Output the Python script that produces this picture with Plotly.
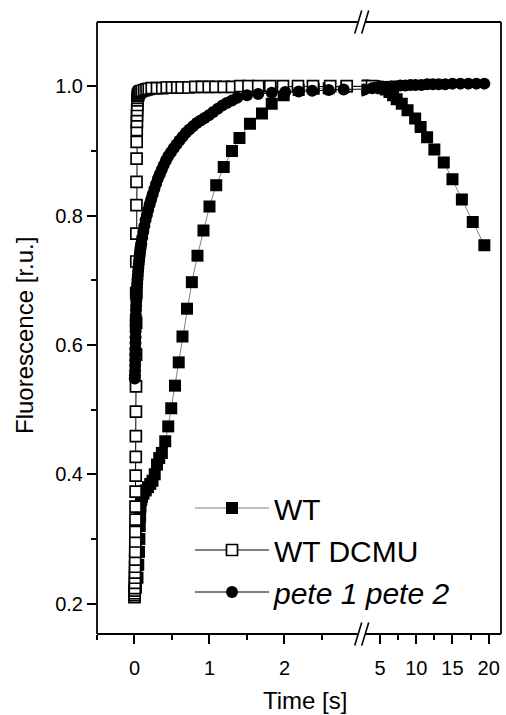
import plotly.graph_objects as go

# ---------------- data ----------------
wt_t = [0.00, 0.02, 0.04, 0.05, 0.06, 0.065, 0.07, 0.075, 0.08, 0.09, 0.10, 0.12,
        0.15, 0.18, 0.21, 0.24, 0.27, 0.30, 0.33, 0.365, 0.41, 0.45, 0.49, 0.54,
        0.59, 0.64, 0.70, 0.765, 0.84, 0.92, 1.00, 1.09, 1.19, 1.30, 1.40, 1.54,
        1.70, 1.83, 1.99, 2.19, 2.39, 2.59, 2.83,
        3.9, 4.3, 4.8, 5.3, 5.8, 6.3, 6.8, 7.3, 8.0, 8.8, 9.85, 10.6, 11.5, 12.5,
        13.8, 15.0, 16.3, 17.8, 19.4]
wt_f = [0.220, 0.225, 0.240, 0.260, 0.280, 0.300, 0.320, 0.335, 0.350, 0.360, 0.365, 0.370,
        0.375, 0.380, 0.385, 0.390, 0.400, 0.415, 0.425, 0.433, 0.451, 0.474, 0.502, 0.537,
        0.573, 0.613, 0.656, 0.697, 0.738, 0.777, 0.814, 0.847, 0.875, 0.900, 0.920, 0.942,
        0.958, 0.973, 0.986, 0.994, 0.996, 0.997, 1.000,
        1.000, 1.000, 0.999, 0.997, 0.995, 0.991, 0.986, 0.980, 0.973, 0.963, 0.950, 0.937,
        0.921, 0.902, 0.882, 0.856, 0.825, 0.790, 0.754]

dcmu_t = [0.000, 0.001, 0.002, 0.003, 0.004, 0.005, 0.006, 0.007, 0.008, 0.009, 0.010,
          0.011, 0.012, 0.013, 0.014, 0.015, 0.016, 0.017, 0.018, 0.019, 0.020, 0.021,
          0.022, 0.023, 0.024, 0.025, 0.026, 0.027, 0.028, 0.029, 0.030, 0.032, 0.034,
          0.036, 0.038, 0.040, 0.042, 0.045, 0.048, 0.055, 0.065, 0.08, 0.10, 0.13, 0.16,
          0.19, 0.23, 0.30, 0.37, 0.43, 0.50, 0.57, 0.63, 0.72, 0.81, 0.90, 0.99, 1.08,
          1.19, 1.30, 1.41, 1.52, 1.65, 1.81, 1.98, 2.18, 2.38, 2.61, 2.83, 3.9]
dcmu_f = [0.210, 0.213, 0.216, 0.220, 0.224, 0.232, 0.240, 0.248, 0.257, 0.268, 0.280,
          0.296, 0.311, 0.330, 0.350, 0.373, 0.398, 0.427, 0.459, 0.497, 0.536, 0.585,
          0.634, 0.680, 0.729, 0.772, 0.816, 0.852, 0.888, 0.914, 0.932, 0.945, 0.955,
          0.963, 0.971, 0.978, 0.982, 0.985, 0.987, 0.989, 0.991, 0.992, 0.993, 0.994, 0.995,
          0.996, 0.997, 0.997, 0.997, 0.998, 0.998, 0.998, 0.998, 0.998, 0.999, 0.999, 0.999,
          0.999, 0.999, 0.999, 1.000, 1.000, 1.000, 1.000, 1.000, 1.000, 1.000, 1.000, 1.000, 1.000]

pete_t = [0.004, 0.006, 0.008, 0.009, 0.010, 0.011, 0.012, 0.013, 0.014, 0.015, 0.016,
          0.017, 0.018, 0.020, 0.022, 0.024, 0.027, 0.030, 0.033, 0.036, 0.040, 0.044,
          0.048, 0.052, 0.057, 0.062, 0.067, 0.072, 0.078, 0.084, 0.090,
          0.103, 0.117, 0.132, 0.148, 0.165, 0.183,
          0.202, 0.222, 0.243, 0.265, 0.288, 0.312, 0.337, 0.363, 0.390, 0.420, 0.452,
          0.486, 0.522, 0.560, 0.600, 0.642, 0.686, 0.732, 0.780, 0.830, 0.882, 0.936,
          0.992, 1.05, 1.11, 1.17, 1.23, 1.30, 1.37, 1.50, 1.65, 1.83, 2.01, 2.19, 2.37,
          2.59, 2.79,
          3.9, 4.4, 4.9, 5.4, 6.0, 6.6, 7.2, 7.8, 8.5, 9.2, 9.9, 10.7, 11.5, 12.3, 13.1,
          14.0, 15.0, 16.1, 17.2, 18.3, 19.4]
pete_f = [0.548, 0.553, 0.560, 0.568, 0.576, 0.585, 0.594, 0.603, 0.612, 0.621, 0.630,
          0.638, 0.646, 0.654, 0.661, 0.668, 0.675, 0.682, 0.689, 0.695, 0.701, 0.707,
          0.713, 0.719, 0.725, 0.731, 0.737, 0.742, 0.748, 0.752, 0.757,
          0.766, 0.775, 0.784, 0.793, 0.801, 0.809,
          0.817, 0.825, 0.833, 0.841, 0.849, 0.857, 0.864, 0.871, 0.878, 0.885, 0.892,
          0.898, 0.904, 0.910, 0.916, 0.922, 0.928, 0.933, 0.938, 0.943, 0.947, 0.951,
          0.955, 0.960, 0.965, 0.970, 0.974, 0.978, 0.982, 0.986, 0.988, 0.990, 0.991, 0.992,
          0.993, 0.994, 0.995,
          0.997, 0.998, 0.998, 0.999, 0.999, 1.000, 1.000, 1.001, 1.001, 1.002, 1.002, 1.002,
          1.003, 1.003, 1.003, 1.003, 1.004, 1.004, 1.004, 1.004, 1.004]

left_ticks = [0, 1, 2]
right_ticks = [5, 10, 15, 20]
y_ticks = [0.2, 0.4, 0.6, 0.8, 1.0]

LEFT_RANGE = [-0.5, 3.03]
RIGHT_RANGE = [2.47, 21.7]

# ---------------- layout geometry ----------------
W, H = 506, 715
ML, MR, MT, MB = 97, 5, 22, 81
PW, PH = W - ML - MR, H - MT - MB
BREAK_PX = 361.7
brk = (BREAK_PX - ML) / PW

def px(xp):
    return (xp - ML) / PW

def py(yp):
    return (H - MB - yp) / PH

def part(t, f, lo, hi):
    """keep points inside [lo, hi] plus one neighbour on each side"""
    idx = [i for i, v in enumerate(t) if lo <= v <= hi]
    if not idx:
        return [], []
    a, b = max(idx[0] - 1, 0), min(idx[-1] + 1, len(t) - 1)
    return t[a:b + 1], f[a:b + 1]

FONT = "Liberation Sans, Arial, sans-serif"

series = [
    dict(name="WT", t=wt_t, f=wt_f, symbol="square", size=12,
         mcolor="black", lcolor="black", lw=0, line="#808080"),
    dict(name="WT DCMU", t=dcmu_t, f=dcmu_f, symbol="square", size=11,
         mcolor="white", lcolor="black", lw=1.7, line="black"),
    dict(name="<i>pete 1 pete 2</i>", t=pete_t, f=pete_f, symbol="circle", size=12,
         mcolor="black", lcolor="black", lw=0, line="black"),
]

fig = go.Figure()
for s in series:
    for xa, rng, show in (("x", LEFT_RANGE, True), ("x2", RIGHT_RANGE, False)):
        tt, ff = part(s["t"], s["f"], rng[0], rng[1])
        fig.add_trace(go.Scatter(
            x=tt, y=ff, xaxis=xa, yaxis="y", mode="lines+markers",
            name=s["name"], showlegend=show, legendgroup=s["name"],
            line=dict(color=s["line"], width=1),
            marker=dict(symbol=s["symbol"], size=s["size"], color=s["mcolor"],
                        line=dict(color=s["lcolor"], width=s["lw"])),
        ))

axis_common = dict(showgrid=False, zeroline=False, showline=False, ticks="outside",
                   tickcolor="black", tickwidth=1.5, ticklen=9,
                   tickfont=dict(family=FONT, size=20, color="black"))

fig.update_layout(
    width=W, height=H,
    margin=dict(l=ML, r=MR, t=MT, b=MB),
    paper_bgcolor="white", plot_bgcolor="white",
    xaxis=dict(domain=[0, brk], range=LEFT_RANGE, tickmode="array",
               tickvals=left_ticks, ticklabelstandoff=7,
               minor=dict(tickvals=[-0.5, 0.5, 1.5, 2.5], ticks="outside", ticklen=5,
                          tickwidth=1.5, tickcolor="black"),
               anchor="y", **axis_common),
    xaxis2=dict(domain=[brk, 1], range=RIGHT_RANGE, tickmode="array",
                tickvals=right_ticks, ticklabelstandoff=7,
                minor=dict(tickvals=[7.5, 12.5, 17.5], ticks="outside", ticklen=5,
                           tickwidth=1.5, tickcolor="black"),
                anchor="y", **axis_common),
    yaxis=dict(range=[0.153, 1.0993], tickmode="array", tickvals=y_ticks,
               tickformat=".1f", anchor="x", ticklabelstandoff=0,
               minor=dict(tickvals=[0.3, 0.5, 0.7, 0.9], ticks="outside", ticklen=5,
                          tickwidth=1.5, tickcolor="black"),
               **axis_common),
    legend=dict(x=px(190), y=py(482), xanchor="left", yanchor="top",
                bgcolor="rgba(0,0,0,0)", itemwidth=74,
                font=dict(family=FONT, size=30, color="black"),
                tracegroupgap=0),
    showlegend=True,
)

# frame with axis breaks
lw = 1.8
frame = [
    (ML, MT, ML, H - MB),
    (W - MR, MT, W - MR, H - MB),
    (ML, MT, BREAK_PX - 4, MT),
    (BREAK_PX + 4, MT, W - MR, MT),
    (ML, H - MB, BREAK_PX - 4, H - MB),
    (BREAK_PX + 4, H - MB, W - MR, H - MB),
]
for x0, y0, x1, y1 in frame:
    fig.add_shape(type="line", xref="paper", yref="paper",
                  x0=px(x0), y0=py(y0), x1=px(x1), y1=py(y1),
                  line=dict(color="black", width=lw), layer="above")
for yc in (MT, H - MB):
    for dx in (-3.5, 3.5):
        fig.add_shape(type="line", xref="paper", yref="paper",
                      x0=px(BREAK_PX + dx - 3.5), y0=py(yc + 11.5),
                      x1=px(BREAK_PX + dx + 3.5), y1=py(yc - 11.5),
                      line=dict(color="black", width=1.6), layer="above")

fig.add_annotation(text="Time [s]", xref="paper", yref="paper", x=px(305), y=py(700),
                   showarrow=False, xanchor="center", yanchor="middle",
                   font=dict(family=FONT, size=24, color="black"))
fig.add_annotation(text="Fluorescence [r.u.]", xref="paper", yref="paper",
                   x=px(24), y=py(336), textangle=-90, showarrow=False,
                   xanchor="center", yanchor="middle",
                   font=dict(family=FONT, size=24, color="black"))

fig.write_html("out.html", config={"displayModeBar": False},
               post_script="document.body.style.margin='0';document.body.style.overflow='hidden';")
